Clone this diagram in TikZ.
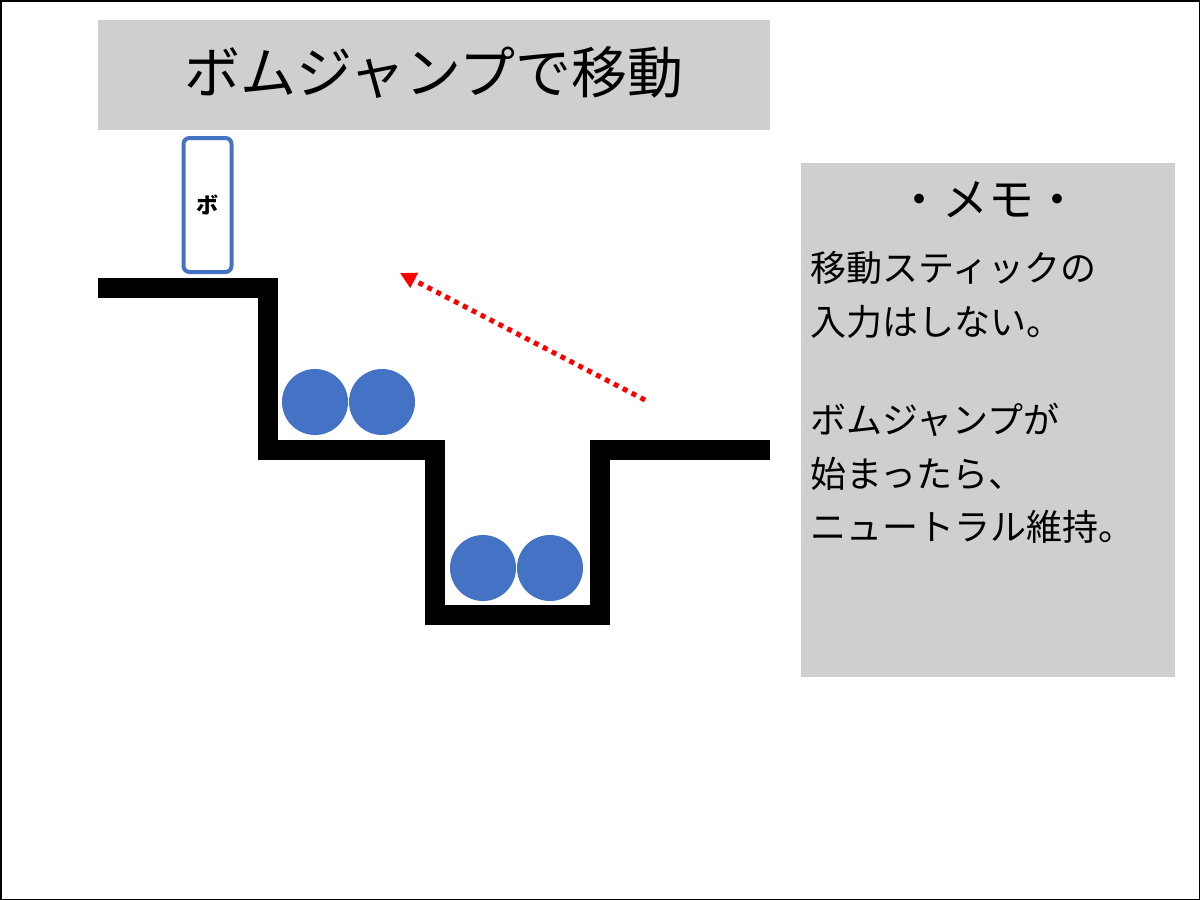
\documentclass[tikz,border=0pt]{standalone}
\usepackage{fontspec}
\setmainfont{Noto Sans CJK JP}
\usetikzlibrary{arrows.meta}
\definecolor{boxgray}{HTML}{D0CECE}
\definecolor{myblue}{HTML}{4472C4}
\begin{document}
\begin{tikzpicture}[x=1pt,y=-1pt,
  ball/.style={circle,fill=myblue,minimum size=66pt,inner sep=0pt},
  memo/.style={anchor=west,font=\fontsize{36}{40}\selectfont,inner sep=0pt}]
\useasboundingbox (0,0) rectangle (1200,900);
\draw[line width=1.5pt] (0.75,0.75) rectangle (1199.25,899.25);
\fill[boxgray] (98,20) rectangle (770,130);
\node (title) at (434,72) {\fontsize{56}{60}\selectfont ボムジャンプで移動};
\node[draw=myblue,line width=4pt,rounded corners=6pt,minimum width=48pt,minimum height=134pt,inner sep=0pt] (bo) at (207.5,205) {\fontsize{22}{24}\selectfont\bfseries ボ};
\draw[line width=20pt] (98,288) -- (268,288) -- (268,450) -- (435,450) -- (435,615) -- (600,615) -- (600,450) -- (770,450);
\node[ball] (b1) at (315,402) {};
\node[ball] (b2) at (382,402) {};
\node[ball] (b3) at (483,568) {};
\node[ball] (b4) at (550,568) {};
\coordinate (as) at (645,400);
\coordinate (ae) at (400,273);
\draw[red,line width=5pt,dash pattern=on 5pt off 5pt,-{Triangle[length=16pt,width=16pt]}] (as) -- (ae);
\fill[boxgray] (801,163) rectangle (1175,677);
\node (mt) at (988,200) {\fontsize{46}{50}\selectfont ・メモ・};
\node[memo] (m1) at (810,268) {移動スティックの};
\node[memo] (m2) at (810,322) {入力はしない。};
\node[memo] (m3) at (810,420) {ボムジャンプが};
\node[memo] (m4) at (810,474) {始まったら、};
\node[memo] (m5) at (810,527) {ニュートラル維持。};
\end{tikzpicture}
\end{document}
